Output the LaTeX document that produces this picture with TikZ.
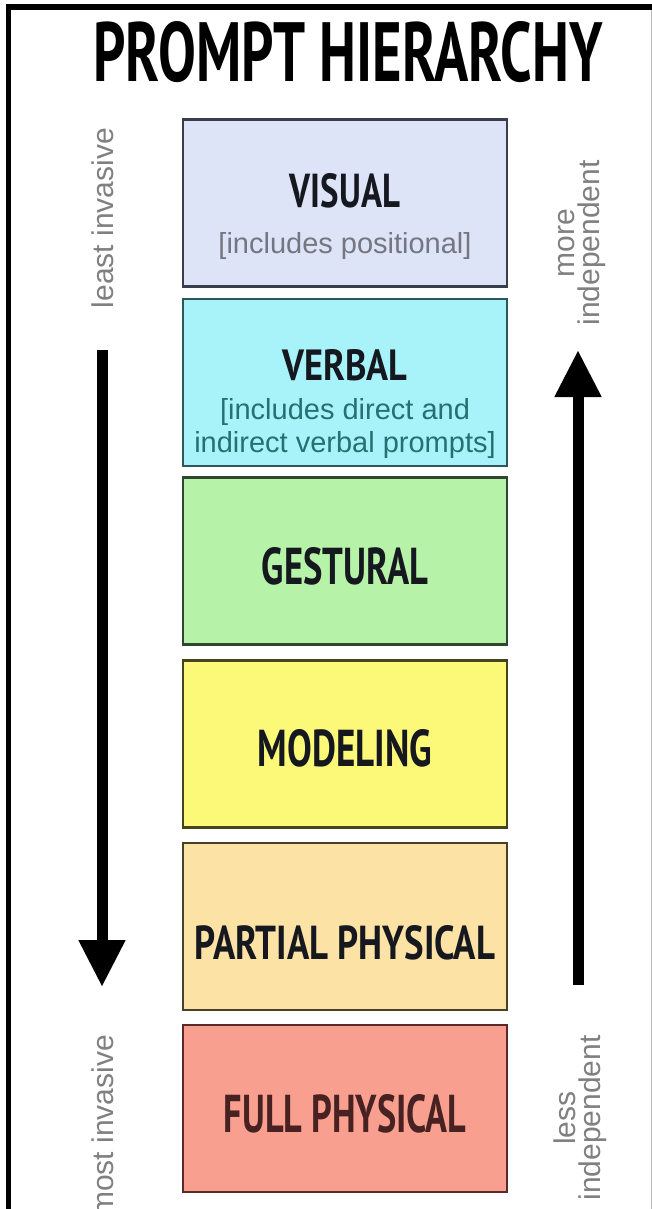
\documentclass[tikz,border=0pt]{standalone}
\usepackage{fontspec}
\usepackage{graphicx}
\setmainfont{Liberation Sans}
\newfontfamily\hfont{PT Sans}
\usetikzlibrary{arrows.meta}
\definecolor{visF}{HTML}{DDE4F8}\definecolor{visD}{HTML}{3A3D4A}
\definecolor{verF}{HTML}{A8F3F9}\definecolor{verD}{HTML}{2F5658}
\definecolor{gesF}{HTML}{B6F2A7}\definecolor{gesD}{HTML}{2F4630}
\definecolor{modF}{HTML}{FDF978}\definecolor{modD}{HTML}{46441E}
\definecolor{parF}{HTML}{FCE2A5}\definecolor{parD}{HTML}{4A4026}
\definecolor{fulF}{HTML}{F99F8F}\definecolor{fulD}{HTML}{5A2A2A}
\definecolor{ink}{HTML}{16181F}
\definecolor{sidegray}{HTML}{808080}
\newcommand{\fit}[3]{\resizebox{#1pt}{#2pt}{\hfont\bfseries #3}}
\begin{document}
\begin{tikzpicture}[x=1pt,y=-1pt,
  box/.style={rectangle, line width=2.5pt, minimum width=324pt, minimum height=167pt, inner sep=0pt},
  ttl/.style={inner sep=0pt, text=ink},
  sub/.style={inner sep=0pt, anchor=base, font=\fontsize{29}{34}\selectfont},
  side/.style={inner sep=0pt, rotate=90, text=sidegray, font=\fontsize{30}{25}\selectfont, align=center},
  bigarrow/.style={line width=11pt, -{Triangle[width=44pt,length=47pt]}}]
\path[use as bounding box] (0,0) rectangle (652,1209);
\fill[white] (0,0) rectangle (652,1209);
% frame
\fill[black] (6,4) rectangle (11,1209);
\fill[black] (6,4) rectangle (652,10);
\draw[gray!55, line width=1pt] (651,10) -- (651,1209);
% title
\node[ttl, text=black] (title) at (348,52) {\fit{509}{60}{PROMPT HIERARCHY}};
% boxes
\node[box, fill=visF, draw=visD] (visual) at (345,203) {};
\node[box, fill=verF, draw=verD] (verbal) at (345,382.5) {};
\node[box, fill=gesF, draw=gesD] (gestural) at (345,561) {};
\node[box, fill=modF, draw=modD] (modeling) at (345,744) {};
\node[box, fill=parF, draw=parD] (partial) at (345,926.5) {};
\node[box, fill=fulF, draw=fulD] (full) at (345,1108.5) {};
% box titles
\node[ttl] (visualT) at (345,191) {\fit{110}{34}{VISUAL}};
\node[sub, text=visD!70] (visualS) at (345,253) {[includes positional]};
\node[ttl] (verbalT) at (345,365) {\fit{125}{31}{VERBAL}};
\node[sub, text=verD!85!cyan] (verbalS1) at (345,419) {[includes direct and};
\node[sub, text=verD!85!cyan] (verbalS2) at (345,452) {indirect verbal prompts]};
\node[ttl] (gesturalT) at (345,566) {\fit{166}{37}{GESTURAL}};
\node[ttl] (modelingT) at (345,748) {\fit{174}{37}{MODELING}};
\node[ttl] (partialT) at (345,943) {\fit{300}{34}{PARTIAL PHYSICAL}};
\node[ttl, text=fulD!80!black] (fullT) at (345,1114) {\fit{242}{38}{FULL PHYSICAL}};
% side labels
\node[side] (least) at (102.5,218) {least invasive};
\node[side] (most) at (102.5,1126) {most invasive};
\node[side] (more) at (582,243) {more\\independent};
\node[side] (less) at (580,1118) {less\\independent};
% arrows
\coordinate (downS) at (102,350);
\coordinate (downE) at (102,987);
\coordinate (upS) at (578,985);
\coordinate (upE) at (578,350);
\draw[bigarrow] (downS) -- (downE);
\draw[bigarrow] (upS) -- (upE);
\end{tikzpicture}
\end{document}
